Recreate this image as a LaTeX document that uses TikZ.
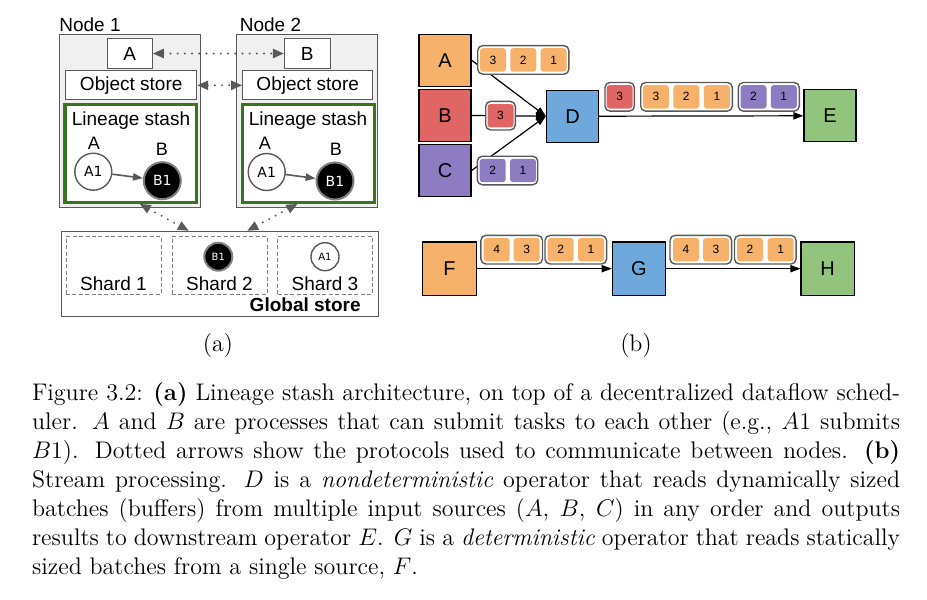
\documentclass[tikz,border=0pt]{standalone}
\usepackage{fontspec}
\usepackage{tikz}
\usetikzlibrary{arrows.meta}
\newfontfamily\arialf{Liberation Sans}
\newfontfamily\dejaf{DejaVu Sans}
\definecolor{orng}{HTML}{F6B26B}
\definecolor{rd}{HTML}{E06666}
\definecolor{prpl}{HTML}{8E7CC3}
\definecolor{blu}{HTML}{6FA8DC}
\definecolor{grn}{HTML}{93C47D}
\definecolor{dgrn}{HTML}{38761D}
\definecolor{dgray}{HTML}{595959}

\begin{document}
\begin{tikzpicture}[x=0.5pt, y=-0.5pt,
        sans/.style={font=\arialf\fontsize{9.5}{11}\selectfont},
        machine/.style={draw=dgray, fill=black!6, line width=0.5pt, minimum width=70.5pt, minimum height=86.5pt, inner sep=0pt},
        whitebox/.style={draw=dgray, fill=white, line width=0.5pt, inner sep=0pt, sans},
        stash/.style={draw=dgrn, line width=1.6pt, minimum width=65.9pt, minimum height=49pt, inner sep=0pt},
        wtask/.style={circle, draw=dgray, fill=white, line width=0.7pt, inner sep=0pt, minimum size=18.5pt, font=\dejaf\fontsize{7}{8}\selectfont},
        btask/.style={wtask, fill=black, text=white, draw=gray, line width=1pt},
        shard/.style={draw=gray, line width=0.4pt, dash pattern=on 2pt off 1.2pt, minimum width=47.5pt, minimum height=28.8pt, inner sep=0pt},
        dotarrow/.style={dgray, line width=1.1pt, line cap=round, dash pattern=on 0pt off 3.6pt, {Triangle[length=5.5pt,width=4.5pt]}-{Triangle[length=5.5pt,width=4.5pt]}},
        submit/.style={dgray, line width=0.8pt, -{Triangle[length=5pt,width=3.6pt]}},
        opbox/.style={draw, line width=0.6pt, minimum size=26pt, inner sep=0pt, font=\arialf\fontsize{10}{12}\selectfont},
        flow/.style={line width=0.6pt, -{Triangle[length=5pt,width=3.6pt]}},
        batch/.style={draw=dgray, fill=white, line width=0.7pt, rounded corners=2.5pt, minimum height=14.3pt, inner sep=0pt},
        cell/.style={rounded corners=1.5pt, minimum width=13pt, minimum height=11.7pt, inner sep=0pt, font=\arialf\fontsize{6}{7}\selectfont}]
        \useasboundingbox (0,0) rectangle (927,600);

        \node[machine] (N1) at (130,120.75) {};
        \node[machine] (N2) at (307,120.75) {};
        \node[sans, anchor=base west, inner sep=0pt] (N1t) at (59,31) {Node 1};
        \node[sans, anchor=base west, inner sep=0pt] (N2t) at (239.5,31) {Node 2};
        \node[whitebox, minimum width=22.5pt, minimum height=14.8pt] (A) at (129.8,53.5) {A};
        \node[whitebox, minimum width=22.8pt, minimum height=14.8pt] (B) at (307.2,53.5) {B};
        \node[whitebox, minimum width=65.5pt, minimum height=14.65pt] (OS1) at (131.2,85.3) {Object store};
        \node[whitebox, minimum width=65pt, minimum height=14.65pt] (OS2) at (307.7,85.3) {Object store};
        \node[stash, fill=white] (LS1) at (130.8,153.3) {};
        \node[stash, fill=white] (LS2) at (308.2,153.3) {};
        \node[sans, anchor=base] (LS1t) at (131,125) {Lineage stash};
        \node[sans, anchor=base] (LS2t) at (308,125) {Lineage stash};
        \node[wtask] (A1) at (93.3,171.7) {A1};
        \node[btask] (B1) at (162.3,180.7) {B1};
        \node[wtask] (A1') at (266.7,172) {A1};
        \node[btask] (B1') at (335,181) {B1};
        \node[sans, font=\arialf\fontsize{9}{11}\selectfont] (A1t) at (94,143) {A};
        \node[sans, font=\arialf\fontsize{9}{11}\selectfont] (B1t) at (162,149) {B};
        \node[sans, font=\arialf\fontsize{9}{11}\selectfont] (A1t') at (265,143) {A};
        \node[sans, font=\arialf\fontsize{9}{11}\selectfont] (B1t') at (336,149) {B};
        \draw[submit] (A1) -- (B1);
        \draw[submit] (A1') -- (B1');

        \node[draw=dgray, fill=white, line width=0.5pt, minimum width=158.5pt, minimum height=42.7pt, inner sep=0pt] (GS) at (220.2,274) {};
        \node[shard] (S1) at (113.5,265.5) {};
        \node[shard] (S2) at (219.5,265.5) {};
        \node[shard] (S3) at (325,265.5) {};
        \node[sans, anchor=base] (S1t) at (113.5,290.5) {Shard 1};
        \node[sans, anchor=base] (S2t) at (219.5,290.5) {Shard 2};
        \node[sans, anchor=base] (S3t) at (325,290.5) {Shard 3};
        \node[btask, minimum size=14pt, font=\dejaf\fontsize{5}{6}\selectfont] (B1g) at (218.3,256.7) {B1};
        \node[wtask, minimum size=14pt, font=\dejaf\fontsize{5}{6}\selectfont] (A1g) at (325,256.7) {A1};
        \node[sans, anchor=base east, inner sep=0pt] (GSt) at (361,311.5) {\textbf{Global store}};

        \draw[dotarrow] (A) -- (B);
        \draw[dotarrow] (OS1) -- (OS2);
        \draw[dotarrow] (LS1.-80) -- (GS.126);
        \draw[dotarrow] (LS2.-102) -- (GS.58);

        \node (a) at (218,351.5) [anchor=base, inner sep=0pt, font=\fontsize{12}{14.5}\selectfont] {(a)};

        \node[opbox, fill=orng] (PA) at (445,60.2) {A};
        \node[opbox, fill=rd] (PB) at (445,115.5) {B};
        \node[opbox, fill=prpl] (PC) at (445,170.5) {C};
        \node[opbox, fill=blu] (PD) at (572.5,116.2) {D};
        \node[opbox, fill=grn] (PE) at (830,115.8) {E};
        \draw[flow] (PA.east) -- (PD.west);
        \draw[flow] (PB.east) -- (PD.west);
        \draw[flow] (PC.east) -- (PD.west);
        \draw[flow] (PD.east) -- (PE.west);

        \node[batch, minimum width=45.6pt] (QA) at (523.3,59.9) {};
        \foreach \n/\cx in {3/493,2/523.3,1/553.6}
            \node[cell, fill=orng] (qa\n) at (\cx,59.9) {\n};
        \node[batch, minimum width=14.8pt] (QB) at (500.5,115.7) {};
        \node[cell, fill=rd] (qb3) at (500.5,115.7) {3};
        \node[batch, minimum width=30.2pt] (QC) at (507.5,170.5) {};
        \foreach \n/\cx in {2/492.7,1/523}
            \node[cell, fill=prpl] (qc\n) at (\cx,170.5) {\n};

        \node[batch, minimum width=14.7pt] (QDB) at (619.7,96.8) {};
        \node[cell, fill=rd] (qdb3) at (619.7,96.8) {3};
        \node[batch, minimum width=45.8pt] (QDA) at (686.5,96.8) {};
        \foreach \n/\cx in {3/655.9,2/686.3,1/716.9}
            \node[cell, fill=orng] (qda\n) at (\cx,96.8) {\n};
        \node[batch, minimum width=30.5pt] (QDC) at (768.8,96.8) {};
        \foreach \n/\cx in {2/753.5,1/783.8}
            \node[cell, fill=prpl] (qdc\n) at (\cx,96.8) {\n};

        \node[opbox, fill=orng, minimum size=26.7pt] (PF) at (449.5,268.7) {F};
        \node[opbox, fill=blu, minimum size=26.7pt] (PG) at (639,268.7) {G};
        \node[opbox, fill=grn, minimum size=26.7pt] (PH) at (827.7,268.7) {H};
        \draw[flow] (PF) -- (PG);
        \draw[flow] (PG) -- (PH);

        \node[batch, minimum width=30.8pt] (QF1) at (511.7,249.7) {};
        \node[batch, minimum width=30.8pt] (QF2) at (575.8,249.7) {};
        \node[batch, minimum width=30.8pt] (QG1) at (700.8,249.7) {};
        \node[batch, minimum width=30.8pt] (QG2) at (765.3,249.7) {};
        \foreach \n/\cx in {4/496.7,3/526.7,2/560.7,1/591,4/686,3/716,2/750,1/780.7}
            \node[cell, fill=orng] (q\n\cx) at (\cx,249.7) {\n};

        \node (b) at (636,351.5) [anchor=base, inner sep=0pt, font=\fontsize{12}{14.5}\selectfont] {(b)};

        \node[anchor=base west, inner sep=0pt, text width=434pt, align=justify, font=\fontsize{12}{14.5}\selectfont] (cap) at (31.7,400) {Figure 3.2: \textbf{(a)} Lineage stash architecture, on top of a decentralized dataflow sched-\linebreak uler. $A$ and $B$ are processes that can submit tasks to each other (e.g., $A1$ submits\linebreak $B1$). Dotted arrows show the protocols used to communicate between nodes. \textbf{(b)}\linebreak Stream processing. $D$ is a \emph{nondeterministic} operator that reads dynamically sized\linebreak batches (buffers) from multiple input sources ($A$, $B$, $C$) in any order and outputs\linebreak results to downstream operator $E$. $G$ is a \emph{deterministic} operator that reads statically\linebreak sized batches from a single source, $F$.};
      \end{tikzpicture}
\end{document}
